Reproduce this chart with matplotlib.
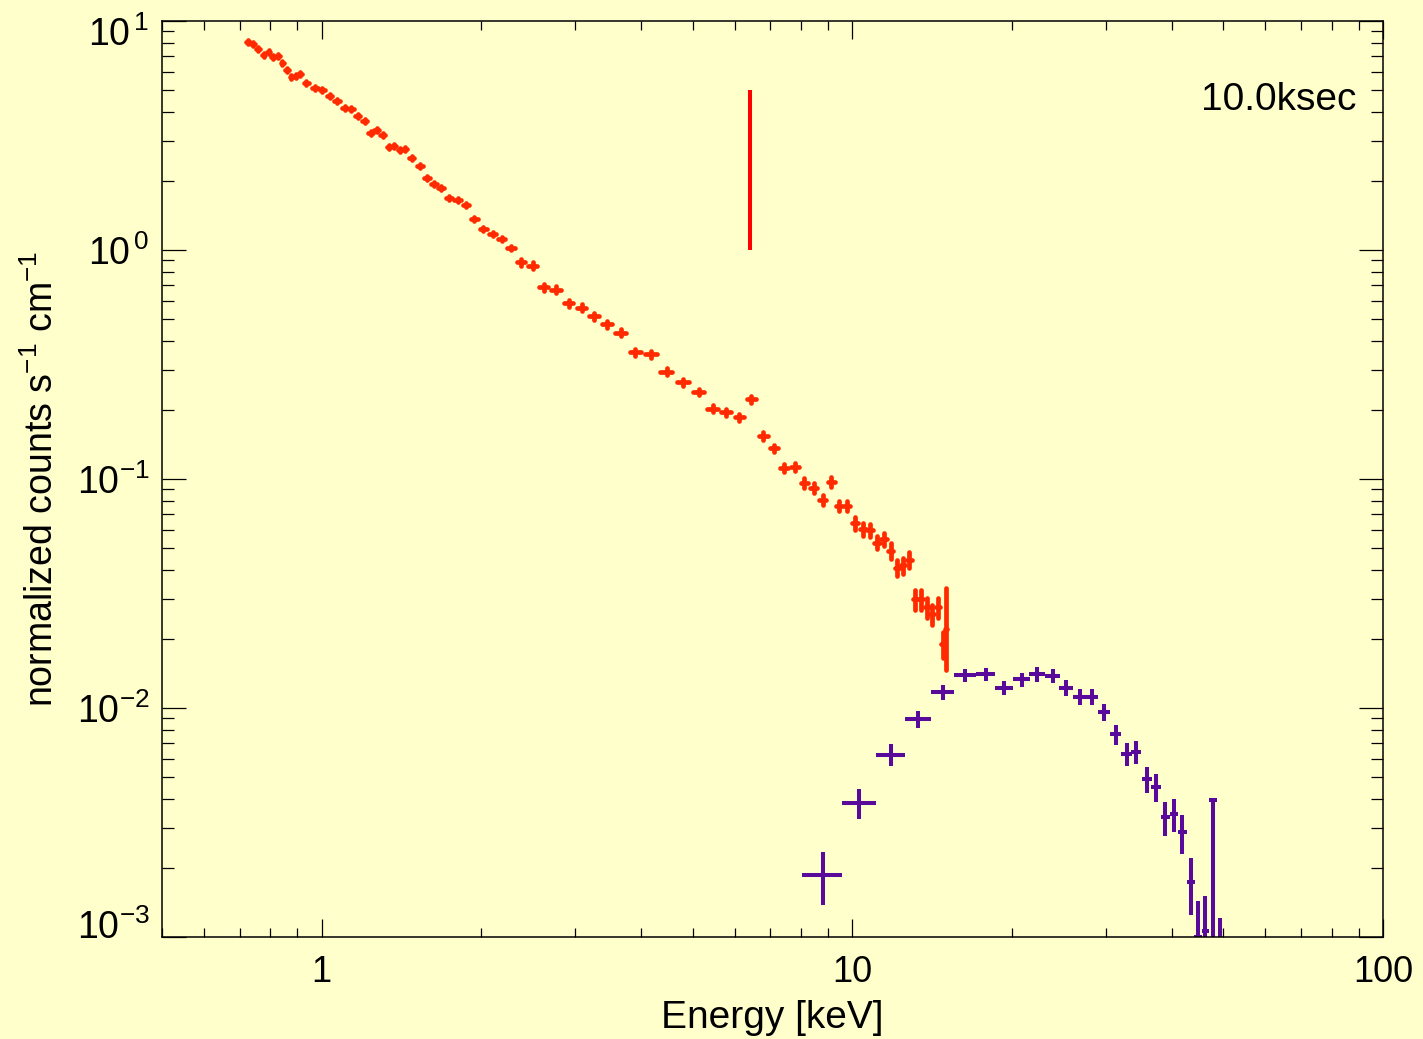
import numpy as np
import matplotlib
matplotlib.use('Agg')
import matplotlib.pyplot as plt
import matplotlib.transforms as mtransforms
from matplotlib.ticker import LogLocator, NullFormatter

plt.rcParams['font.family'] = ['Liberation Sans', 'DejaVu Sans']
plt.rcParams['mathtext.fontset'] = 'custom'
plt.rcParams['mathtext.rm'] = 'Liberation Sans'
plt.rcParams['mathtext.it'] = 'Liberation Sans:italic'

bg = '#ffffcc'
rouge = '#ff2a00'
rouge_fe = '#ff0000'
violet = '#5a0a9a'

# spectre basse energie (rouge) : energie keV, counts s-1 keV-1
red_e = [0.726, 0.742, 0.760, 0.777, 0.794, 0.810, 0.827, 0.843, 0.860, 0.877,
         0.893, 0.910, 0.936, 0.970, 1.003, 1.035, 1.069, 1.105, 1.136, 1.168,
         1.204, 1.237, 1.269, 1.303, 1.337, 1.368, 1.404, 1.435, 1.477, 1.530,
         1.579, 1.627, 1.678, 1.735, 1.804, 1.870, 1.939, 2.016, 2.099, 2.183,
         2.272, 2.377, 2.497, 2.619, 2.762, 2.919, 3.088, 3.263, 3.452, 3.662,
         3.902, 4.171, 4.464, 4.790, 5.129, 5.457, 5.790, 6.127, 6.452, 6.800,
         7.120, 7.446, 7.787, 8.123, 8.456, 8.794, 9.132, 9.453, 9.786, 10.13,
         10.47, 10.80, 11.13, 11.47, 11.81, 12.15, 12.46, 12.80, 13.14, 13.47,
         13.82, 14.15, 14.50, 14.82, 15.02]
red_v = [8.07, 7.91, 7.57, 7.12, 7.32, 6.98, 7.01, 6.57, 6.09, 5.71,
         5.77, 5.85, 5.36, 5.10, 5.01, 4.70, 4.46, 4.18, 4.14, 3.84,
         3.67, 3.24, 3.34, 3.17, 2.81, 2.85, 2.74, 2.76, 2.53, 2.33,
         2.06, 1.95, 1.87, 1.68, 1.65, 1.58, 1.37, 1.24, 1.18, 1.12,
         1.02, 0.886, 0.854, 0.687, 0.671, 0.587, 0.560, 0.515, 0.475, 0.435,
         0.3575, 0.350, 0.294, 0.2645, 0.240, 0.2028, 0.1956, 0.186, 0.2236, 0.1546,
         0.136, 0.112, 0.1132, 0.0961, 0.0916, 0.0807, 0.0970, 0.0762, 0.0764, 0.0641,
         0.0603, 0.0599, 0.0527, 0.0545, 0.0486, 0.0410, 0.0420, 0.0443, 0.0299, 0.0299,
         0.0275, 0.0257, 0.0276, 0.0190, 0.0221]
# erreurs relatives (bas / haut)
red_err_lo = [0.02] * 41 + [0.035] * 18 + [0.04] * 4 + [0.05] * 6 + [0.065] * 5 \
    + [0.08] * 4 + [0.10] * 5 + [0.13] + [0.34]
red_err_hi = [0.02] * 41 + [0.035] * 18 + [0.04] * 4 + [0.05] * 6 + [0.065] * 5 \
    + [0.08] * 4 + [0.10] * 5 + [0.13] + [0.51]

# raie du fer
fe_e = 6.4
fe_lo = 1.0
fe_hi = 5.0

# spectre haute energie (violet)
pur_e = [8.79, 10.31, 11.81, 13.31, 14.82, 16.32, 17.82, 19.33, 20.84, 22.31,
         23.84, 25.29, 26.84, 28.31, 29.83, 31.33, 32.86, 34.31, 35.89, 37.37,
         38.86, 40.35, 41.88, 43.44, 44.78, 46.28, 47.85, 49.32]
pur_v = [1.866e-3, 3.847e-3, 6.234e-3, 8.95e-3, 1.175e-2, 1.390e-2, 1.404e-2, 1.227e-2,
         1.334e-2, 1.404e-2, 1.384e-2, 1.227e-2, 1.12e-2, 1.12e-2, 9.6e-3, 7.68e-3,
         6.28e-3, 6.445e-3, 4.898e-3, 4.505e-3, 3.332e-3, 3.434e-3, 2.865e-3, 1.734e-3,
         1.0e-3, 1.062e-3, 3.966e-3, 5.0e-4]
pur_xerr = 0.75
pur_err_lo = [0.49e-3, 0.58e-3, 0.67e-3, 0.80e-3, 0.90e-3, 0.90e-3, 0.94e-3, 0.88e-3,
              0.93e-3, 1.0e-3, 1.0e-3, 0.96e-3, 0.90e-3, 0.90e-3, 0.85e-3, 0.79e-3,
              0.72e-3, 0.75e-3, 0.65e-3, 0.63e-3, 0.56e-3, 0.57e-3, 0.55e-3, 0.49e-3,
              0.43e-3, 0.45e-3, 3.9e-3, 0.0]
pur_err_hi = [0.48e-3, 0.58e-3, 0.71e-3, 0.78e-3, 0.90e-3, 0.90e-3, 0.94e-3, 0.88e-3,
              0.93e-3, 1.0e-3, 1.0e-3, 0.96e-3, 0.90e-3, 0.90e-3, 0.85e-3, 0.79e-3,
              0.72e-3, 0.75e-3, 0.65e-3, 0.63e-3, 0.56e-3, 0.57e-3, 0.55e-3, 0.48e-3,
              0.43e-3, 0.45e-3, 0.0, 0.71e-3]

y_ticks = [1e-3, 1e-2, 1e-1, 1e0, 1e1]
y_labels = ['$10^{-3}$', '$10^{-2}$', '$10^{-1}$', '$10^{\\,0}$', '$10^{\\,1}$']
x_ticks = [1, 10, 100]
x_labels = ['1', '10', '100']

fig = plt.figure(figsize=(14.23, 10.39), dpi=100, facecolor=bg)
ax = fig.add_axes([162 / 1423, 1 - 937 / 1039, 1221 / 1423, 916 / 1039], facecolor=bg)

e = np.array(red_e)
v = np.array(red_v)
demi = 0.38 * np.gradient(e)
eb = ax.errorbar(e, v, xerr=demi, yerr=[v * np.array(red_err_lo), v * np.array(red_err_hi)],
                 fmt='none', ecolor=rouge, elinewidth=3.4, capsize=0)
for lc in eb[2]:
    lc.set_capstyle('round')
ax.vlines(fe_e, fe_lo, fe_hi, color=rouge_fe, lw=2.9)

ax.errorbar(pur_e, pur_v, xerr=pur_xerr, yerr=[pur_err_lo, pur_err_hi],
            fmt='none', ecolor=violet, elinewidth=2.9, capsize=0)

ax.set_xscale('log')
ax.set_yscale('log')
ax.set_xlim(0.5, 100)
ax.set_ylim(1e-3, 10)

ax.set_xticks(x_ticks)
ax.set_xticklabels(x_labels)
ax.set_yticks(y_ticks)
ax.set_yticklabels(y_labels)
ax.xaxis.set_minor_locator(LogLocator(base=10, subs=np.arange(2, 10)))
ax.yaxis.set_minor_locator(LogLocator(base=10, subs=np.arange(2, 10)))
ax.xaxis.set_minor_formatter(NullFormatter())
ax.yaxis.set_minor_formatter(NullFormatter())

ax.tick_params(which='both', direction='in', top=True, right=True, width=0.9, color='black')
ax.tick_params(axis='x', which='major', length=13, pad=13, labelsize=26)
ax.tick_params(axis='x', which='minor', length=6.5)
ax.tick_params(axis='y', which='major', length=17, pad=9, labelsize=27)
ax.tick_params(axis='y', which='minor', length=8.6)
for s in ax.spines.values():
    s.set_linewidth(1.1)

# decaler les etiquettes extremes vers l'interieur
for lab in ax.get_yticklabels():
    t = lab.get_text()
    if t == '$10^{\\,1}$':
        lab.set_transform(lab.get_transform() + mtransforms.ScaledTranslation(0, -0.10, fig.dpi_scale_trans))
    if t == '$10^{-3}$':
        lab.set_transform(lab.get_transform() + mtransforms.ScaledTranslation(0, 0.13, fig.dpi_scale_trans))

ax.set_xlabel('Energy [keV]', fontsize=28)
ax.xaxis.set_label_coords(0.5, -0.069)
ax.set_ylabel('normalized counts s$^{-1}$ cm$^{-1}$', fontsize=27)
ax.yaxis.set_label_coords(-0.083, 0.5)

ax.text(0.978, 0.914, '10.0ksec', transform=ax.transAxes, ha='right', va='center', fontsize=28)

plt.savefig('out.png', dpi=100, facecolor=bg)
